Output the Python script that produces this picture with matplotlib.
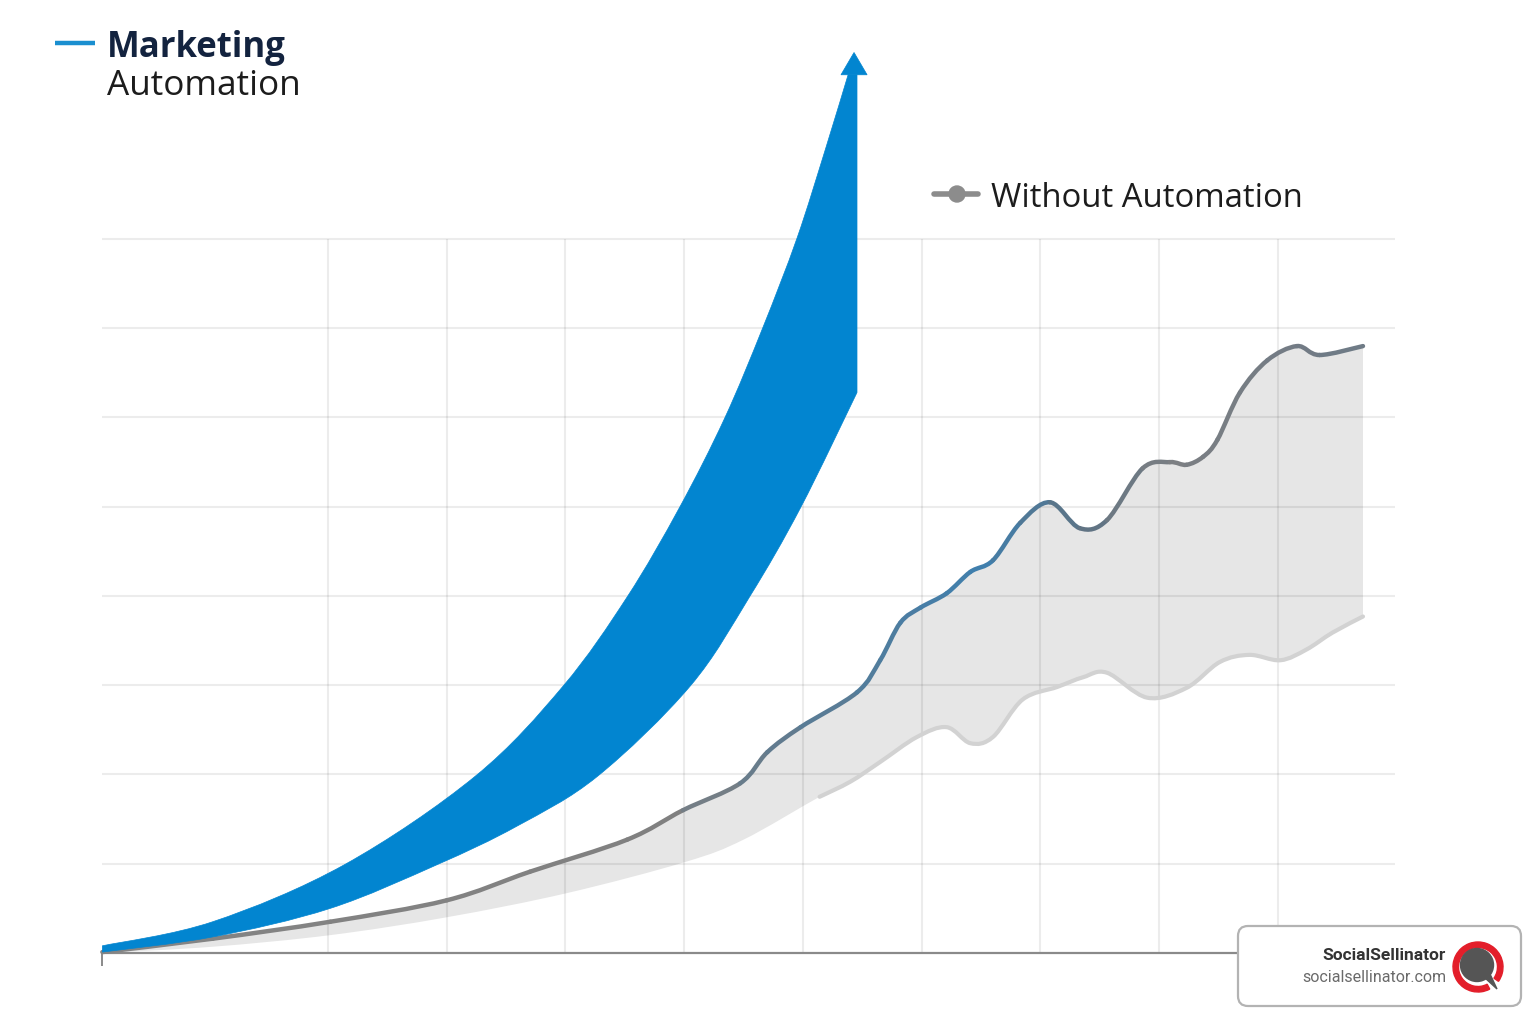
import numpy as np
import matplotlib
matplotlib.use("Agg")
import matplotlib.pyplot as plt
from matplotlib.colors import LinearSegmentedColormap
from matplotlib.path import Path
from matplotlib.patches import FancyBboxPatch, Wedge, Circle, Polygon, PathPatch

# ---- data (x: time units, y: growth units) ----
# Marketing Automation band: upper and lower edges
ma_upper_x = [0.1, 1.03, 2.14, 3.24, 3.98, 4.52, 4.96, 5.34, 5.66, 5.95, 6.19, 6.38]
ma_upper_y = [0.08, 0.35, 0.99, 1.98, 2.99, 3.99, 4.99, 5.99, 7.0, 8.01, 9.01, 9.84]
ma_lower_x = [0.1, 1.03, 2.02, 2.92, 3.59, 4.27, 5.05, 5.55, 5.98, 6.455]
ma_lower_y = [0.01, 0.18, 0.5, 0.99, 1.42, 1.98, 2.99, 3.99, 4.99, 6.28]
arrow_tip = 10.09

# Without Automation: main line and lower range edge
wo_x = [0.1, 1.03, 2.02, 3.0, 3.7, 4.52, 4.99, 5.47, 5.7, 5.98, 6.455,
        6.65, 6.82, 6.99, 7.21, 7.41, 7.6, 7.83, 8.08, 8.33, 8.56, 8.86, 9.09,
        9.23, 9.37, 9.49, 9.68, 9.91, 10.16, 10.35, 10.716]
wo_y = [0.01, 0.16, 0.35, 0.59, 0.91, 1.27, 1.6, 1.9, 2.25, 2.53, 2.92,
        3.28, 3.7, 3.87, 4.03, 4.27, 4.4, 4.82, 5.05, 4.76, 4.85, 5.43, 5.5,
        5.47, 5.56, 5.75, 6.28, 6.64, 6.8, 6.7, 6.8]
wo_low_x = [0.1, 1.03, 2.02, 3.0, 4.01, 5.01, 5.5, 6.14, 6.4, 6.65, 6.96, 7.21,
            7.41, 7.6, 7.85, 8.14, 8.36, 8.56, 8.9, 9.23, 9.51, 9.76, 10.02, 10.24,
            10.46, 10.716]
wo_low_y = [0.0, 0.07, 0.2, 0.4, 0.67, 1.02, 1.27, 1.75, 1.92, 2.14, 2.42, 2.53,
            2.35, 2.42, 2.84, 2.98, 3.09, 3.14, 2.86, 2.97, 3.26, 3.34, 3.28, 3.4,
            3.59, 3.77]
wo_low_line_from = 6.14

x_grid = [2, 3, 4, 5, 6, 7, 8, 9, 10]
y_grid = [1, 2, 3, 4, 5, 6, 7, 8]

BLUE = "#0285d0"


def bezier_segments(xs, ys):
    # Catmull-Rom through the points, as cubic Bezier pieces
    p = np.column_stack([xs, ys]).astype(float)
    q = np.vstack([p[0], p, p[-1]])
    out = []
    for i in range(len(p) - 1):
        p0, p1, p2, p3 = q[i], q[i + 1], q[i + 2], q[i + 3]
        out.append((p1, p1 + (p2 - p0) / 6, p2 - (p3 - p1) / 6, p2))
    return out


def add_curve(verts, codes, xs, ys, first):
    segs = bezier_segments(xs, ys)
    verts.append(segs[0][0])
    codes.append(first)
    for s in segs:
        verts += [s[1], s[2], s[3]]
        codes += [Path.CURVE4] * 3


fig = plt.figure(figsize=(15.36, 10.24), dpi=100)
ax = fig.add_axes([0, 0, 1, 1])
ax.set_xlim(-0.762, 12.173)
ax.set_ylim(-0.796, 10.678)
ax.axis("off")

# grid
ax.hlines(y_grid, 0.1, 10.985, color="black", alpha=0.075, lw=1.5, zorder=2)
ax.vlines(x_grid, 0, 8, color="black", alpha=0.075, lw=1.5, zorder=2)
ax.hlines(0, 0.1, 10.985, color="#8a8a8a", lw=1.6, zorder=3)
ax.vlines(0.1, -0.15, 0, color="#8a8a8a", lw=1.4, zorder=3)

# Without Automation range
v, c = [], []
add_curve(v, c, wo_x, wo_y, Path.MOVETO)
add_curve(v, c, wo_low_x[::-1], wo_low_y[::-1], Path.LINETO)
v.append(v[0]); c.append(Path.CLOSEPOLY)
ax.add_patch(PathPatch(Path(v, c), facecolor="#e6e6e6", edgecolor="none", zorder=1))

lx = np.array(wo_low_x)
ly = np.array(wo_low_y)
m = lx >= wo_low_line_from
v, c = [], []
add_curve(v, c, lx[m], ly[m], Path.MOVETO)
ax.add_patch(PathPatch(Path(v, c), facecolor="none", edgecolor="#d2d2d2", lw=3,
                       capstyle="round", joinstyle="round", zorder=4))

cmap = LinearSegmentedColormap.from_list("wo", [
    (0.0, "#858585"), (0.45, "#808080"), (0.55, "#5f7b90"), (0.7, "#3f7fae"),
    (0.78, "#5d7384"), (0.85, "#7c7f83"), (1.0, "#6e7a86")])
for s in bezier_segments(wo_x, wo_y):
    col = cmap((s[0][0] + s[3][0]) / 2 / max(wo_x))
    path = Path([s[0], s[1], s[2], s[3]], [Path.MOVETO] + [Path.CURVE4] * 3)
    ax.add_patch(PathPatch(path, facecolor="none", edgecolor=col, lw=3.2,
                           capstyle="round", joinstyle="round", zorder=5))

# Marketing Automation band with arrow
right = ma_lower_x[-1]
v, c = [], []
add_curve(v, c, ma_upper_x, ma_upper_y, Path.MOVETO)
v.append((right, ma_upper_y[-1])); c.append(Path.LINETO)
add_curve(v, c, ma_lower_x[::-1], ma_lower_y[::-1], Path.LINETO)
v.append(v[0]); c.append(Path.CLOSEPOLY)
ax.add_patch(PathPatch(Path(v, c), facecolor=BLUE, edgecolor=BLUE, lw=0.5, zorder=6))
ax.add_patch(Polygon([(6.32, ma_upper_y[-1]), (6.54, ma_upper_y[-1]), (6.43, arrow_tip)],
                     closed=True, facecolor=BLUE, edgecolor=BLUE, lw=0.5, zorder=6))

# ---- overlay (legend + watermark) in pixel space ----
ov = fig.add_axes([0, 0, 1, 1], zorder=10)
ov.set_xlim(0, 1536)
ov.set_ylim(1024, 0)
ov.axis("off")
ov.patch.set_alpha(0)

ov.plot([55, 95], [43, 43], color="#1a8fd0", lw=3.2, solid_capstyle="butt")
ov.text(107, 57, "Marketing", fontsize=25, fontweight="bold", color="#13233f",
        family="Open Sans", va="baseline")
ov.text(107, 95, "Automation", fontsize=25.3, color="#1c1c1c",
        family="Open Sans", va="baseline")

ov.plot([934, 978], [194, 194], color="#8c8c8c", lw=4, solid_capstyle="round")
ov.add_patch(Circle((957, 194), 8, color="#8c8c8c"))
ov.text(991, 207, "Without Automation", fontsize=23.7, color="#1c1c1c",
        family="Open Sans", va="baseline")

ov.add_patch(FancyBboxPatch((1238, 926), 283, 80,
                            boxstyle="round,pad=0,rounding_size=10",
                            facecolor="white", edgecolor="#b3b3b3", lw=1.6))
ov.text(1446, 960, "SocialSellinator", fontsize=12.5, fontweight="bold",
        color="#333333", family="Roboto", ha="right", va="baseline")
ov.text(1446, 982, "socialsellinator.com", fontsize=11.5, color="#6a6a6a",
        family="Roboto", ha="right", va="baseline")
ov.add_patch(Wedge((1478, 967), 25, 62, 395, width=5.5, color="#e31e2a"))
ov.add_patch(Circle((1477, 965), 16.5, color="#555555"))
ov.add_patch(Polygon([(1484, 977), (1497, 989), (1490, 974)], closed=True, color="#555555"))

fig.savefig("out.png", dpi=100, facecolor="white")
